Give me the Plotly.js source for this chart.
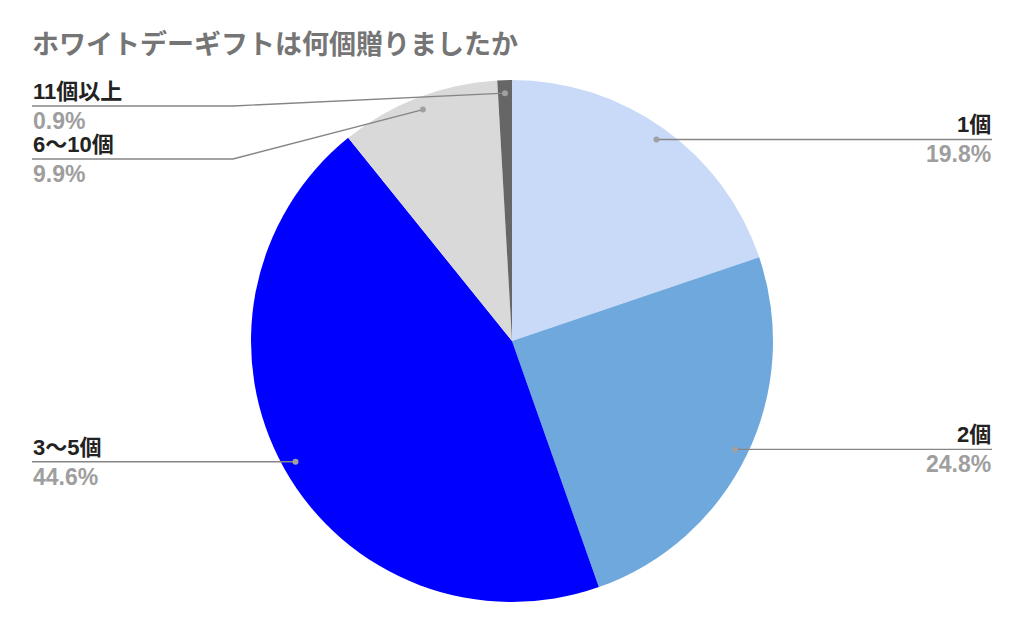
<!DOCTYPE html>
<html>
<head>
<meta charset="utf-8">
<script src="https://cdn.plot.ly/plotly-3.0.1.min.js"></script>
<style>
  html, body { margin: 0; padding: 0; background: #fff; }
  #chart { width: 1024px; height: 634px; }
</style>
</head>
<body>
<div id="chart"></div>
<script>
// data
const categories = ['1個', '2個', '3〜5個', '6〜10個', '11個以上'];
const shares = [19.8, 24.8, 44.6, 9.9, 0.9];
const sliceColors = ['#c9daf8', '#6fa8dc', '#0000ff', '#d9d9d9', '#666666'];

const W = 1024, H = 634;
const FONT = "'Liberation Sans', Arial, 'Noto Sans CJK JP', sans-serif";

// pie geometry (pixels)
const cx = 512, cy = 341, R = 261;
const px2x = p => p / W;
const px2y = p => 1 - p / H;

// label anchor dots on each slice's mid angle
const total = shares.reduce((a, b) => a + b, 0);
let acc = 0;
const dots = shares.map(v => {
  const mid = (acc + v / 2) / total * 2 * Math.PI;
  acc += v;
  return { x: cx + 0.95 * R * Math.sin(mid), y: cy - 0.95 * R * Math.cos(mid) };
});

// stack labels per side so they do not overlap
const GAP = 53, TOP = 106;
const rows = dots.map((d, i) => ({ i, side: d.x >= cx ? 'right' : 'left', dot: d }));
['left', 'right'].forEach(side => {
  const list = rows.filter(r => r.side === side).sort((a, b) => a.dot.y - b.dot.y);
  let prev = -Infinity;
  list.forEach(r => {
    r.ly = Math.max(r.dot.y, prev + GAP, TOP);
    prev = r.ly;
  });
});

const shapes = [];
const annotations = [];
const leftEdge = 32, rightEdge = 992, leftElbow = 233, rightElbow = 791;

rows.forEach(r => {
  const edge = r.side === 'left' ? leftEdge : rightEdge;
  const elbow = r.side === 'left' ? leftElbow : rightElbow;
  const line = { color: '#858585', width: 1.4 };
  shapes.push({ type: 'line', xref: 'paper', yref: 'paper',
    x0: px2x(r.dot.x), y0: px2y(r.dot.y), x1: px2x(elbow), y1: px2y(r.ly), line });
  shapes.push({ type: 'line', xref: 'paper', yref: 'paper',
    x0: px2x(elbow), y0: px2y(r.ly), x1: px2x(edge), y1: px2y(r.ly), line });
  shapes.push({ type: 'circle', xref: 'paper', yref: 'paper',
    x0: px2x(r.dot.x - 3), x1: px2x(r.dot.x + 3),
    y0: px2y(r.dot.y + 3), y1: px2y(r.dot.y - 3),
    fillcolor: '#a0a0a0', line: { width: 0 } });

  const anchor = r.side === 'left' ? 'left' : 'right';
  // name sits above the leader line, share below it
  annotations.push({ xref: 'paper', yref: 'paper', x: px2x(edge), y: px2y(r.ly - 1),
    xanchor: anchor, yanchor: 'bottom', showarrow: false, text: categories[r.i],
    font: { family: FONT, size: 22, color: '#222222', weight: 'bold' }, borderpad: 0 });
  annotations.push({ xref: 'paper', yref: 'paper', x: px2x(edge), y: px2y(r.ly + 1),
    xanchor: anchor, yanchor: 'top', showarrow: false, text: shares[r.i].toFixed(1) + '%',
    font: { family: FONT, size: 23, color: '#9e9e9e', weight: 'bold' }, borderpad: 0 });
});

const data = [{
  type: 'pie',
  labels: categories,
  values: shares,
  sort: false,
  direction: 'clockwise',
  rotation: 0,
  textinfo: 'none',
  hoverinfo: 'label+percent',
  marker: { colors: sliceColors, line: { width: 0 } },
  domain: { x: [px2x(cx - R), px2x(cx + R)], y: [px2y(cy + R), px2y(cy - R)] }
}];

const layout = {
  width: W,
  height: H,
  margin: { l: 0, r: 0, t: 0, b: 0 },
  paper_bgcolor: '#ffffff',
  showlegend: false,
  title: {
    text: 'ホワイトデーギフトは何個贈りましたか',
    x: 32 / W, xanchor: 'left', y: 1 - 45 / H, yanchor: 'middle',
    font: { family: FONT, size: 27, color: '#757575', weight: 'bold' }
  },
  shapes,
  annotations
};

Plotly.newPlot('chart', data, layout, { displayModeBar: false, staticPlot: true });
</script>
</body>
</html>
